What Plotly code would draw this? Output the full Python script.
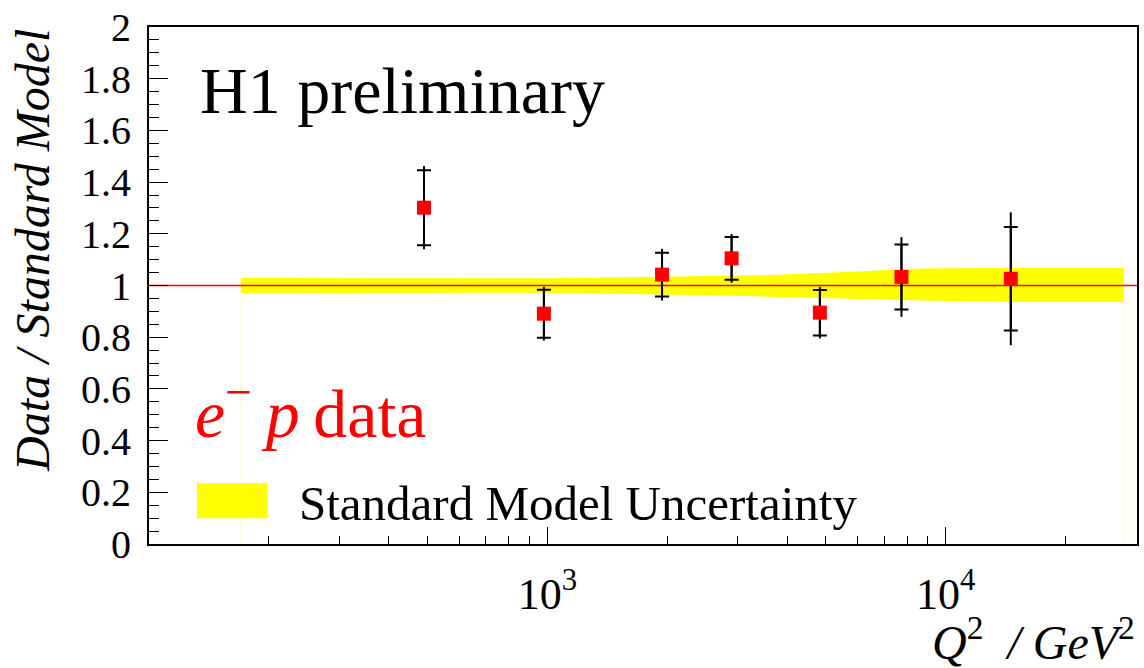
import plotly.graph_objects as go

# Measured ratio Data / Standard Model as a function of Q^2 (e-p data)
q2 = [490, 980, 1940, 2900, 4830, 7740, 14560]
ratio = [1.301, 0.891, 1.042, 1.105, 0.895, 1.033, 1.026]
err_stat = [0.145, 0.093, 0.085, 0.083, 0.088, 0.126, 0.200]
err_tot = [0.161, 0.104, 0.100, 0.094, 0.100, 0.154, 0.257]

# Standard Model uncertainty band (upper / lower edge of the ratio)
band_q2 = [170, 360, 1000, 2600, 3800, 6000, 8600, 15000, 28000]
band_hi = [1.029, 1.029, 1.028, 1.037, 1.042, 1.054, 1.066, 1.069, 1.069]
band_lo = [0.971, 0.971, 0.972, 0.962, 0.957, 0.948, 0.942, 0.936, 0.936]

# Axis ticks
y_major = [0, 0.2, 0.4, 0.6, 0.8, 1, 1.2, 1.4, 1.6, 1.8, 2]
x_major = [1000, 10000]
x_major_text = ["10<sup>3</sup>", "10<sup>4</sup>"]
x_minor = [200, 300, 400, 500, 600, 700, 800, 900,
           2000, 3000, 4000, 5000, 6000, 7000, 8000, 9000, 20000]

SERIF = "Liberation Serif, Times New Roman, serif"
YELLOW = "#ffff00"
RED = "#ff0000"

fig = go.Figure()

# Uncertainty band
fig.add_trace(go.Scatter(
    x=band_q2 + band_q2[::-1],
    y=band_hi + band_lo[::-1],
    fill="toself", fillcolor=YELLOW,
    line=dict(width=0), mode="lines",
    hoverinfo="skip", showlegend=False,
))
# faint edges of the band histogram down to zero
for xe, ye in ((band_q2[0], band_lo[0]), (band_q2[-1], band_lo[-1])):
    fig.add_trace(go.Scatter(
        x=[xe, xe], y=[0, ye], mode="lines",
        line=dict(color="#fff7c8", width=1),
        hoverinfo="skip", showlegend=False,
    ))

# Reference line at ratio = 1
fig.add_trace(go.Scatter(
    x=[10 ** 2.0, 10 ** 4.48], y=[1, 1], mode="lines",
    line=dict(color=RED, width=1.5),
    hoverinfo="skip", showlegend=False,
))

# Total errors (no caps)
fig.add_trace(go.Scatter(
    x=q2, y=ratio, mode="markers",
    marker=dict(size=1, color="rgba(0,0,0,0)"),
    error_y=dict(type="data", array=err_tot, color="black", thickness=2, width=0),
    showlegend=False, hoverinfo="skip",
))
# Statistical errors (with caps) and markers
fig.add_trace(go.Scatter(
    x=q2, y=ratio, mode="markers",
    marker=dict(symbol="square", size=14, color=RED, line=dict(width=0)),
    error_y=dict(type="data", array=err_stat, color="black", thickness=2, width=7),
    showlegend=False,
))

# Legend entry drawn as a box with text
fig.add_shape(type="rect", xref="paper", yref="paper",
              x0=0.0485, x1=0.120, y0=0.050, y1=0.1175,
              fillcolor=YELLOW, line=dict(width=0))
fig.add_annotation(xref="paper", yref="paper", x=0.150, y=0.079,
                   xanchor="left", yanchor="middle", showarrow=False,
                   text="Standard Model Uncertainty",
                   font=dict(family=SERIF, size=49, color="black"))

fig.add_annotation(xref="paper", yref="paper", x=0.050, y=0.878,
                   xanchor="left", yanchor="middle", showarrow=False,
                   text="H1 preliminary",
                   font=dict(family=SERIF, size=66, color="black"))

fig.add_annotation(xref="paper", yref="paper", x=0.045, y=0.262,
                   xanchor="left", yanchor="middle", showarrow=False,
                   text="<i>e</i><sup>\u2212</sup>\u2009<i>p</i>\u2009data",
                   font=dict(family=SERIF, size=68, color=RED))

# Axis titles
fig.add_annotation(xref="paper", yref="paper", x=-0.118, y=1.0,
                   xanchor="center", yanchor="top", showarrow=False,
                   textangle=-90,
                   text="<i>Data / Standard Model</i>",
                   font=dict(family=SERIF, size=48, color="black"))
fig.add_annotation(xref="paper", yref="paper", x=1.0, y=-0.183,
                   xanchor="right", yanchor="middle", showarrow=False,
                   text="<i>Q</i><sup>2</sup>  <i>/ GeV</i><sup>2</sup>",
                   font=dict(family=SERIF, size=48, color="black"))

fig.update_xaxes(
    type="log", range=[2.0, 4.48],
    tickvals=x_major, ticktext=x_major_text,
    ticks="inside", ticklen=17, tickwidth=1, tickcolor="black",
    minor=dict(tickvals=x_minor, ticks="inside", ticklen=8,
               tickwidth=1, tickcolor="black"),
    showgrid=False, zeroline=False,
    showline=True, linecolor="black", linewidth=2, mirror=True,
    tickfont=dict(family=SERIF, size=44, color="black"),
    ticklabelstandoff=10,
)
fig.update_yaxes(
    range=[0, 2], tickvals=y_major,
    ticks="inside", ticklen=19, tickwidth=1, tickcolor="black",
    minor=dict(dtick=0.05, ticks="inside", ticklen=10,
               tickwidth=1, tickcolor="black"),
    showgrid=False, zeroline=False,
    showline=True, linecolor="black", linewidth=2, mirror=True,
    tickfont=dict(family=SERIF, size=40, color="black"),
    ticklabelstandoff=8,
)

fig.update_layout(
    width=1144, height=668,
    margin=dict(l=149, r=5, t=25, b=124),
    paper_bgcolor="white", plot_bgcolor="white",
    showlegend=False,
)

fig.write_html("out.html")
